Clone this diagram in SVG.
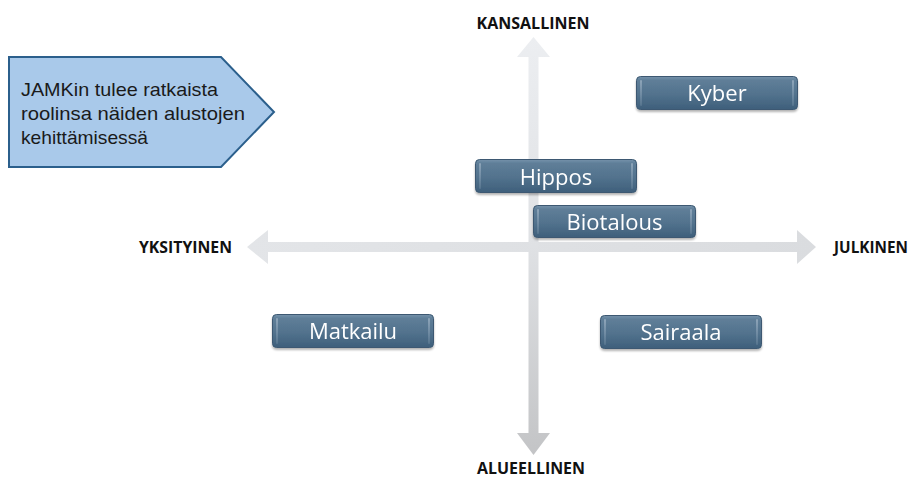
<svg xmlns="http://www.w3.org/2000/svg" width="910" height="478" viewBox="0 0 910 478">
<style>
.axis{font-family:"Open Sans","Liberation Sans",Arial,sans-serif;font-weight:bold;font-size:15.5px;fill:#111}
.call{font-family:"Liberation Sans",Arial,sans-serif;font-size:19px;fill:#1a1a1a}
.lbl{font-family:"Open Sans","Liberation Sans",sans-serif;font-size:22px;fill:#ffffff;text-anchor:middle}
.btn{fill:url(#bg);stroke:#3c5872;stroke-width:1}
.hl{fill:url(#hlg)}
</style>
<defs>
<linearGradient id="bg" x1="0" y1="0" x2="0" y2="1">
<stop offset="0" stop-color="#7592ab"/>
<stop offset="0.12" stop-color="#5f7e98"/>
<stop offset="0.55" stop-color="#52728d"/>
<stop offset="1" stop-color="#3e5f7b"/>
</linearGradient>
<linearGradient id="hlg" x1="0" y1="0" x2="0" y2="1">
<stop offset="0" stop-color="#b4c5d4" stop-opacity="0.55"/>
<stop offset="1" stop-color="#8ea5ba" stop-opacity="0.25"/>
</linearGradient>
<linearGradient id="vg" x1="0" y1="0" x2="0" y2="1">
<stop offset="0" stop-color="#eceef1"/>
<stop offset="0.5" stop-color="#dfe1e4"/>
<stop offset="1" stop-color="#c3c4c6"/>
</linearGradient>
<linearGradient id="hg" x1="0" y1="0" x2="1" y2="0">
<stop offset="0" stop-color="#e3e5e8"/>
<stop offset="1" stop-color="#dadcdf"/>
</linearGradient>
<filter id="sh" x="-10%" y="-20%" width="120%" height="150%">
<feGaussianBlur in="SourceAlpha" stdDeviation="1.2"/>
<feOffset dy="1.5"/>
<feComponentTransfer><feFuncA type="linear" slope="0.3"/></feComponentTransfer>
<feMerge><feMergeNode/><feMergeNode in="SourceGraphic"/></feMerge>
</filter>
</defs>
<rect width="910" height="478" fill="#ffffff"/>
<g id="connectors">
<polygon id="h-axis" fill="url(#hg)" points="247,247 268,230 268,242 797,242 797,230 816,247 797,264 797,252 268,252 268,264"/>
<polygon id="v-axis" fill="url(#vg)" points="533.5,37 550,57 538.5,57 538.5,433 550,433 533.5,455 517,433 528.5,433 528.5,57 517,57"/>
</g>
<g id="label-kansallinen"><text class="axis" x="533" y="29" text-anchor="middle" textLength="113" lengthAdjust="spacingAndGlyphs">KANSALLINEN</text></g>
<g id="label-alueellinen"><text class="axis" x="531" y="474" text-anchor="middle" textLength="108" lengthAdjust="spacingAndGlyphs">ALUEELLINEN</text></g>
<g id="label-yksityinen"><text class="axis" x="139" y="253" textLength="93" lengthAdjust="spacingAndGlyphs">YKSITYINEN</text></g>
<g id="label-julkinen"><text class="axis" x="834" y="253" textLength="74" lengthAdjust="spacingAndGlyphs">JULKINEN</text></g>
<g id="callout">
<polygon points="9,57 221,57 274,112 221,167 9,167" fill="#a9c9ea" stroke="#2b5f8c" stroke-width="2"/>
<text class="call" x="21" y="96" textLength="197" lengthAdjust="spacingAndGlyphs">JAMKin tulee ratkaista</text>
<text class="call" x="21" y="120" textLength="224" lengthAdjust="spacingAndGlyphs">roolinsa näiden alustojen</text>
<text class="call" x="21" y="144" textLength="127" lengthAdjust="spacingAndGlyphs">kehittämisessä</text>
</g>
<g id="node-kyber" filter="url(#sh)">
<rect class="btn" x="636.5" y="76.5" width="161" height="33" rx="4"/>
<rect class="hl" x="640" y="80" width="2" height="26" rx="1"/>
<rect class="hl" x="792" y="80" width="2" height="26" rx="1"/>
<text class="lbl" x="717" y="101">Kyber</text>
</g>
<g id="node-hippos" filter="url(#sh)">
<rect class="btn" x="475.5" y="159.5" width="161" height="33" rx="4"/>
<rect class="hl" x="479" y="163" width="2" height="26" rx="1"/>
<rect class="hl" x="631" y="163" width="2" height="26" rx="1"/>
<text class="lbl" x="556" y="185">Hippos</text>
</g>
<g id="node-biotalous" filter="url(#sh)">
<rect class="btn" x="533.5" y="205.5" width="162" height="32" rx="4"/>
<rect class="hl" x="537" y="209" width="2" height="25" rx="1"/>
<rect class="hl" x="690" y="209" width="2" height="25" rx="1"/>
<text class="lbl" x="614.5" y="230">Biotalous</text>
</g>
<g id="node-matkailu" filter="url(#sh)">
<rect class="btn" x="272.5" y="314.5" width="161" height="33" rx="4"/>
<rect class="hl" x="276" y="318" width="2" height="26" rx="1"/>
<rect class="hl" x="428" y="318" width="2" height="26" rx="1"/>
<text class="lbl" x="353" y="339">Matkailu</text>
</g>
<g id="node-sairaala" filter="url(#sh)">
<rect class="btn" x="600.5" y="315.5" width="161" height="33" rx="4"/>
<rect class="hl" x="604" y="319" width="2" height="26" rx="1"/>
<rect class="hl" x="756" y="319" width="2" height="26" rx="1"/>
<text class="lbl" x="681" y="340">Sairaala</text>
</g>
</svg>
